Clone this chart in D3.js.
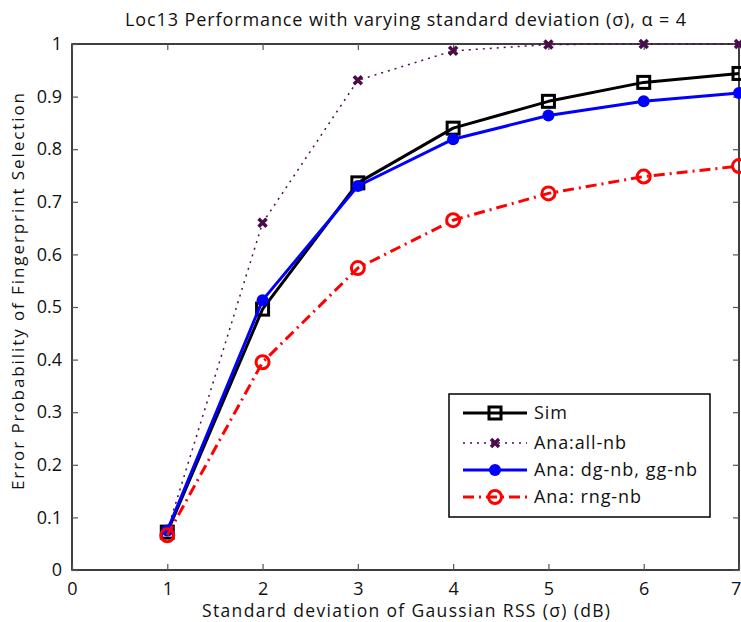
<!DOCTYPE html>
<html>
<head>
<meta charset="utf-8">
<script src="https://cdn.jsdelivr.net/npm/d3@7"></script>
<style>
  body { margin: 0; background: #fff; }
  text { font-family: "Open Sans", "DejaVu Sans", sans-serif; fill: #111; }
</style>
</head>
<body>
<svg id="chart" width="741" height="622"></svg>
<script>
const sigma = [1, 2, 3, 4, 5, 6, 7];
const simValues = [0.072, 0.496, 0.736, 0.840, 0.891, 0.927, 0.944];
const allNbValues = [0.075, 0.660, 0.931, 0.987, 0.999, 1.0, 1.0];
const dgGgValues = [0.075, 0.513, 0.730, 0.819, 0.864, 0.891, 0.907];
const rngValues = [0.066, 0.395, 0.574, 0.665, 0.716, 0.748, 0.768];
const xTicks = [0, 1, 2, 3, 4, 5, 6, 7];
const yTicks = [0, 0.1, 0.2, 0.3, 0.4, 0.5, 0.6, 0.7, 0.8, 0.9, 1];
const seriesNames = ["Sim", "Ana:all-nb", "Ana: dg-nb, gg-nb", "Ana: rng-nb"];
const titleText = "Loc13 Performance with varying standard deviation  (σ), α = 4";
const xLabel = "Standard deviation of Gaussian RSS (σ) (dB)";
const yLabel = "Error Probability of Fingerprint Selection";

const svg = d3.select("#chart");
const mLeft = 72, mRight = 739, mTop = 44, mBottom = 570;
const x = d3.scaleLinear().domain([0, 7]).range([mLeft, mRight]);
const y = d3.scaleLinear().domain([0, 1]).range([mBottom, mTop]);

// axes box
svg.append("rect").attr("x", mLeft).attr("y", mTop).attr("width", mRight - mLeft).attr("height", mBottom - mTop)
  .attr("fill", "none").attr("stroke", "#000").attr("stroke-width", 1.5);

// ticks (inward) on all sides
const tl = 6;
const gx = svg.append("g").attr("transform", `translate(0,${mBottom})`)
  .call(d3.axisBottom(x).tickValues(xTicks).tickSize(-tl).tickPadding(12).tickFormat(d3.format("d")));
const gxt = svg.append("g").attr("transform", `translate(0,${mTop})`)
  .call(d3.axisTop(x).tickValues(xTicks).tickSize(-tl).tickFormat(""));
const gy = svg.append("g").attr("transform", `translate(${mLeft},0)`)
  .call(d3.axisLeft(y).tickValues(yTicks).tickSize(-tl).tickPadding(10).tickFormat(d => d === 0 ? "0" : d === 1 ? "1" : d3.format(".1f")(d)));
const gyr = svg.append("g").attr("transform", `translate(${mRight},0)`)
  .call(d3.axisRight(y).tickValues(yTicks).tickSize(-tl).tickFormat(""));
[gx, gxt, gy, gyr].forEach(g => {
  g.select(".domain").remove();
  g.selectAll(".tick line").attr("stroke", "#555").attr("stroke-width", 1.2);
  g.selectAll(".tick text").style("font-size", "18px").attr("fill", "#111")
    .style("font-family", "'Open Sans', sans-serif");
});
// last x tick label "7" sits at the right edge; keep it fully inside the page
gx.selectAll(".tick text").filter(d => d === 7).attr("text-anchor", "end").attr("dx", "0.1em");

// titles
svg.append("text").attr("x", 125).attr("y", 26)
  .attr("textLength", 561).attr("lengthAdjust", "spacing")
  .style("font-size", "18px").text(titleText);
svg.append("text").attr("x", 202).attr("y", 617)
  .attr("textLength", 408).attr("lengthAdjust", "spacing")
  .style("font-size", "17.5px").text(xLabel);
svg.append("text").attr("transform", `translate(24,490) rotate(-90)`)
  .attr("textLength", 397).attr("lengthAdjust", "spacing")
  .style("font-size", "17px").text(yLabel);

const line = d3.line().x((d, i) => x(sigma[i])).y(d => y(d));
const plot = svg.append("g");

const series = [
  { name: seriesNames[0], values: simValues, color: "#000", width: 3, dash: null, marker: "square", tl: 33 },
  { name: seriesNames[1], values: allNbValues, color: "#4b0c4b", width: 1.5, dash: "2,5", marker: "x", tl: 92 },
  { name: seriesNames[2], values: dgGgValues, color: "#0000ff", width: 3, dash: null, marker: "dot", tl: 163 },
  { name: seriesNames[3], values: rngValues, color: "#ff0000", width: 3, dash: "11,5,2,5", marker: "circle", tl: 107 }
];

function drawMarker(g, type, cx, cy, color) {
  if (type === "square") {
    g.append("rect").attr("x", cx - 6).attr("y", cy - 6).attr("width", 12).attr("height", 12)
      .attr("fill", "none").attr("stroke", color).attr("stroke-width", 3);
  } else if (type === "x") {
    const s = 4;
    g.append("path").attr("d", `M${cx - s},${cy - s}L${cx + s},${cy + s}M${cx - s},${cy + s}L${cx + s},${cy - s}`)
      .attr("stroke", color).attr("stroke-width", 3.5).attr("fill", "none");
  } else if (type === "dot") {
    g.append("circle").attr("cx", cx).attr("cy", cy).attr("r", 6).attr("fill", color);
  } else if (type === "circle") {
    g.append("circle").attr("cx", cx).attr("cy", cy).attr("r", 6.5).attr("fill", "none")
      .attr("stroke", color).attr("stroke-width", 3);
  }
}

series.forEach(s => {
  const g = plot.append("g");
  g.append("path").datum(s.values).attr("d", line).attr("fill", "none")
    .attr("stroke", s.color).attr("stroke-width", s.width)
    .attr("stroke-dasharray", s.dash).attr("stroke-linejoin", "round");
  s.values.forEach((v, i) => drawMarker(g, s.marker, x(sigma[i]), y(v), s.color));
});

// legend
const lg = svg.append("g");
lg.append("rect").attr("x", 449).attr("y", 394).attr("width", 261).attr("height", 123)
  .attr("fill", "#fff").attr("stroke", "#000").attr("stroke-width", 1.5);
const rowY = [413, 443, 470, 497];
series.forEach((s, i) => {
  const yy = rowY[i];
  lg.append("line").attr("x1", 463).attr("x2", 527).attr("y1", yy).attr("y2", yy)
    .attr("stroke", s.color).attr("stroke-width", s.width).attr("stroke-dasharray", s.dash);
  drawMarker(lg, s.marker, 495, yy, s.color);
  lg.append("text").attr("x", 534).attr("y", yy).attr("dy", "0.36em")
    .attr("textLength", s.tl).attr("lengthAdjust", "spacing")
    .style("font-size", "18px").text(s.name);
});
</script>
</body>
</html>
